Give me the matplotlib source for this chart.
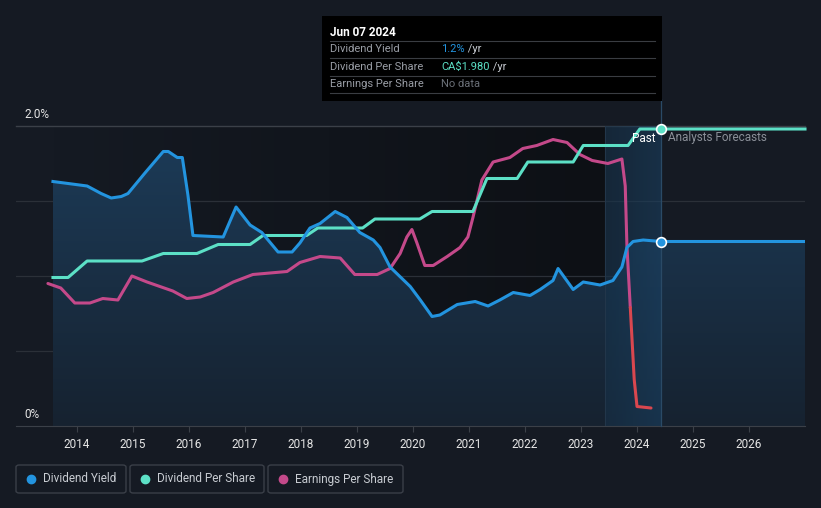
import matplotlib
matplotlib.use("Agg")
import matplotlib.pyplot as plt
import numpy as np
from matplotlib.colors import LinearSegmentedColormap
from matplotlib.patches import Rectangle, FancyBboxPatch

plt.rcParams["font.family"] = ["Roboto", "DejaVu Sans"]

BG = "#151a23"
BLUE = "#2394df"
TEAL = "#5ce0c6"
PINK = "#c4498a"
RED = "#d9474f"

# Dividend yield (%), decimal years
dy_x = [2013.57, 2014.18, 2014.43, 2014.61, 2014.79, 2014.91, 2015.22, 2015.54, 2015.63,
        2015.79, 2015.88, 2015.98, 2016.07, 2016.61, 2016.84, 2017.09, 2017.30, 2017.59,
        2017.84, 2017.98, 2018.16, 2018.34, 2018.61, 2018.82, 2019.05, 2019.29, 2019.41,
        2019.59, 2019.95, 2020.13, 2020.34, 2020.48, 2020.79, 2021.11, 2021.34, 2021.55,
        2021.79, 2022.09, 2022.27, 2022.50, 2022.59, 2022.86, 2023.04, 2023.34, 2023.57,
        2023.73, 2023.82, 2023.93, 2024.11, 2024.43, 2027.0]
dy_y = [1.63, 1.60, 1.55, 1.52, 1.53, 1.55, 1.69, 1.83, 1.83,
        1.79, 1.79, 1.54, 1.27, 1.26, 1.46, 1.34, 1.29, 1.16,
        1.16, 1.22, 1.32, 1.35, 1.43, 1.39, 1.29, 1.24, 1.19,
        1.06, 0.93, 0.84, 0.73, 0.74, 0.81, 0.83, 0.80, 0.84,
        0.89, 0.87, 0.91, 0.97, 1.05, 0.91, 0.96, 0.94, 0.97,
        1.06, 1.19, 1.23, 1.24, 1.23, 1.23]

# Dividend per share (CA$)
dps_x = [2013.57, 2013.84, 2014.18, 2015.16, 2015.54, 2016.14, 2016.52, 2017.09, 2017.32,
         2018.10, 2018.30, 2019.10, 2019.32, 2020.12, 2020.34, 2021.07, 2021.32, 2021.86,
         2022.05, 2022.86, 2023.04, 2023.84, 2024.05, 2024.43, 2027.0]
dps_y = [0.99, 0.99, 1.10, 1.10, 1.15, 1.15, 1.21, 1.21, 1.27,
         1.27, 1.32, 1.32, 1.38, 1.38, 1.43, 1.43, 1.65, 1.65,
         1.76, 1.76, 1.87, 1.87, 1.98, 1.98, 1.98]

# Earnings per share (scaled to the chart axis)
eps_x = [2013.48, 2013.71, 2013.96, 2014.23, 2014.46, 2014.73, 2014.98, 2015.25, 2015.71,
         2015.96, 2016.20, 2016.43, 2016.79, 2017.14, 2017.75, 2017.98, 2018.34, 2018.70,
         2018.96, 2019.36, 2019.59, 2019.77, 2019.89, 2019.98, 2020.07, 2020.21, 2020.36,
         2020.61, 2020.84, 2020.98, 2021.07, 2021.23, 2021.43, 2021.73, 2021.96, 2022.21,
         2022.50, 2022.75, 2022.98, 2023.20, 2023.48, 2023.73, 2023.79, 2023.82, 2023.88]
eps_y = [0.95, 0.92, 0.82, 0.82, 0.85, 0.84, 1.00, 0.96, 0.90,
         0.85, 0.86, 0.89, 0.96, 1.01, 1.03, 1.09, 1.13, 1.12,
         1.01, 1.01, 1.05, 1.15, 1.26, 1.31, 1.22, 1.07, 1.07,
         1.13, 1.19, 1.26, 1.39, 1.64, 1.76, 1.79, 1.85, 1.87,
         1.91, 1.89, 1.81, 1.77, 1.75, 1.78, 1.60, 1.20, 0.79]
eps_neg_x = [2023.88, 2023.95, 2024.00, 2024.25]
eps_neg_y = [0.79, 0.31, 0.13, 0.12]

years = list(range(2014, 2027))
now = 2024.43
past_start = 2023.43
data_start = 2013.57

fig = plt.figure(figsize=(8.21, 5.08), dpi=100, facecolor=BG)
ax = fig.add_axes([16 / 821, 82 / 508, 789 / 821, 300 / 508])
ax.set_facecolor(BG)
ax.set_xlim(2012.91, 2027.0)
ax.set_ylim(0, 2.0)

# dark historic region (horizontal gradient)
dark = LinearSegmentedColormap.from_list("dark", [BG, "#0d1015"])
ax.imshow(np.linspace(0, 1, 256).reshape(1, -1), cmap=dark, aspect="auto",
          extent=[data_start, past_start, 0, 2.0], zorder=0)

# gridlines
for g in [0.5, 1.0, 1.5]:
    ax.axhline(g, color="#2b3038", lw=0.9, zorder=1)
ax.axhline(2.0, color="#3b4048", lw=1.0, zorder=1, clip_on=False)

# fill under dividend yield with vertical gradient
fill = ax.fill_between(dy_x, 0, dy_y, color="none", lw=0, zorder=2)
grad = LinearSegmentedColormap.from_list("blue", ["#162230", "#1c3a56"])
im = ax.imshow(np.linspace(0, 1, 256).reshape(-1, 1), cmap=grad, aspect="auto",
               origin="lower", extent=[data_start, 2027.0, 0, 1.85], zorder=2)
im.set_clip_path(fill.get_paths()[0], transform=ax.transData)

# last-year band
band = LinearSegmentedColormap.from_list("band", ["#16324a", "#1a4264"])
ax.imshow(np.linspace(0, 1, 64).reshape(1, -1), cmap=band, aspect="auto",
          extent=[past_start, now, 0, 2.0], zorder=2.5, alpha=0.55)
ax.axvline(past_start, color="#22364a", lw=0.8, zorder=2.6)
ax.plot([now, now], [0, 2.18], color="#2a4a66", lw=0.9, zorder=2.6, clip_on=False)

# lines
ax.plot(eps_x, eps_y, color=PINK, lw=2.2, zorder=3, solid_capstyle="round")
ax.plot(eps_neg_x, eps_neg_y, color=RED, lw=2.2, zorder=3, solid_capstyle="round")
ax.plot(dps_x, dps_y, color=TEAL, lw=2.2, zorder=4, clip_on=False)
ax.plot(dy_x, dy_y, color=BLUE, lw=2.2, zorder=5)

ax.plot([now], [dps_y[-2]], "o", ms=7, color=TEAL, mec="white", mew=1.2, zorder=6, clip_on=False)
ax.plot([now], [dy_y[-2]], "o", ms=7, color=BLUE, mec="white", mew=1.2, zorder=6)

ax.text(now - 0.1, 1.92, "Past", color="white", fontsize=8.5, ha="right", va="center", zorder=7)
ax.text(now + 0.13, 1.92, "Analysts Forecasts", color="#8a8f98", fontsize=8.5,
        ha="left", va="center", zorder=7)

# axes styling
for s in ["top", "right", "left"]:
    ax.spines[s].set_visible(False)
ax.spines["bottom"].set_color("#3b4048")
ax.set_yticks([])
ax.set_xticks(years)
ax.set_xticklabels([str(y) for y in years])
ax.tick_params(axis="x", colors="#3b4048", length=4, labelcolor="#e6e6e6",
               labelsize=8.5, pad=5)

fig.text(24 / 821, 1 - 114 / 508, "2.0%", color="#e6e6e6", fontsize=8.5, va="center")
fig.text(24 / 821, 1 - 414 / 508, "0%", color="#e6e6e6", fontsize=8.5, va="center")

# tooltip
fig.patches.append(Rectangle((322 / 821, 1 - 101 / 508), 340 / 821, 85 / 508,
                             transform=fig.transFigure, facecolor="black",
                             edgecolor="none", zorder=10))
fig.text(330 / 821, 1 - 33 / 508, "Jun 07 2024", color="white", fontsize=8.5,
         fontweight="bold", va="center", zorder=11)
rows = [("Dividend Yield", "1.2%", BLUE, " /yr"),
        ("Dividend Per Share", "CA$1.980", TEAL, " /yr"),
        ("Earnings Per Share", "No data", "#6b7078", "")]
for i, (lab, val, col, suf) in enumerate(rows):
    yy = 1 - (49 + 17.5 * i) / 508
    fig.text(330 / 821, yy, lab, color="#9a9ea6", fontsize=8, va="center", zorder=11)
    t = fig.text(441 / 821, yy, val, color=col, fontsize=8, va="center", zorder=11)
    if suf:
        fig.canvas.draw()
        bb = t.get_window_extent()
        fig.text(bb.x1 / 821, yy, suf, color="#c8ccd2", fontsize=8, va="center", zorder=11)
for ly in [41, 58, 76, 93]:
    fig.add_artist(plt.Line2D([330 / 821, 655 / 821], [1 - ly / 508] * 2,
                              color="#3a3d42", lw=0.8, zorder=11))

# legend boxes
legend = [("Dividend Yield", BLUE, 16, 126), ("Dividend Per Share", TEAL, 130, 264),
          ("Earnings Per Share", PINK, 268, 403)]
for lab, col, x0, x1 in legend:
    fig.patches.append(FancyBboxPatch((x0 / 821, 1 - 493 / 508), (x1 - x0) / 821, 28 / 508,
                                      boxstyle="round,pad=0,rounding_size=0.004",
                                      transform=fig.transFigure, facecolor="none",
                                      edgecolor="#3a3f48", lw=1.0))
    fig.add_artist(plt.Line2D([(x0 + 15) / 821], [1 - 479 / 508], marker="o", ms=6,
                              color=col, transform=fig.transFigure))
    fig.text((x0 + 27) / 821, 1 - 479 / 508, lab, color="#c8ccd2", fontsize=8.5, va="center")

fig.savefig("out.png", dpi=100, facecolor=BG)
